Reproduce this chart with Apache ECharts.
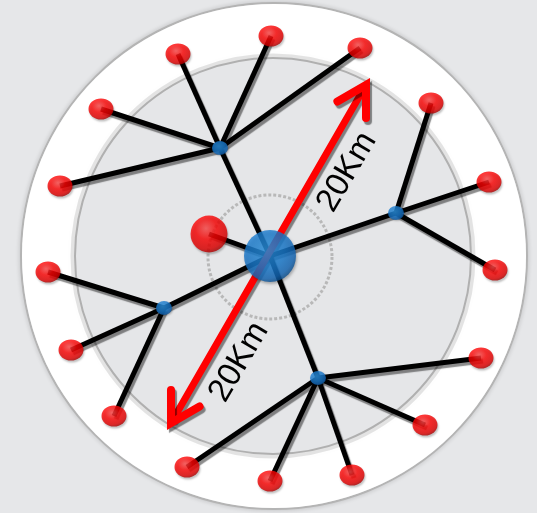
<!DOCTYPE html>
<html><head><meta charset="utf-8">
<script src="https://cdn.jsdelivr.net/npm/echarts@6/dist/echarts.min.js"></script>
<style>html,body{margin:0;padding:0;background:#e6e7e9;}#c{width:537px;height:513px;}</style>
</head><body><div id="c"></div>
<script>
// Diagram data (pixel-like coordinates)
const centerNode = [270, 256];
const nearNode = [209, 234];
const hubs = [[220,148],[396,213],[164,308],[318,378]];
const leaves = [
  [178,54,0],[271,36,0],[360,48,0],[101,109,0],[60,186,0],
  [431,103,1],[489,182,1],[495,270,1],
  [48,272,2],[71,350,2],[114,416,2],
  [481,358,3],[425,425,3],[352,475,3],[270,481,3],[187,467,3]
];
const arrowEnds = [[171,423],[366,85]];
const distLabel = '20Km';
const labelPos = [[347,172],[239,362]];
const rings = [ // cx, cy, r
  [274,256,252],[273,256,198],[270,257,62]
];

const links = [];
hubs.forEach(h => links.push({coords:[centerNode, h]}));
links.push({coords:[centerNode, nearNode]});
leaves.forEach(l => links.push({coords:[hubs[l[2]], [l[0], l[1]]]}));

const redGrad = {type:'radial',x:0.42,y:0.35,r:0.65,colorStops:[{offset:0,color:'#ff4a4a'},{offset:0.45,color:'#ff0505'},{offset:0.85,color:'#e20000'},{offset:1,color:'#b00000'}]};
const blueGrad = {type:'radial',x:0.42,y:0.38,r:0.65,colorStops:[{offset:0,color:'#2b93e2'},{offset:0.55,color:'#1a7cd0'},{offset:0.85,color:'#1468b8'},{offset:1,color:'#0b4b88'}]};

const chart = echarts.init(document.getElementById('c'));
chart.setOption({
  backgroundColor:'#e6e7e9',
  animation:false,
  grid:{left:0,right:0,top:0,bottom:0},
  xAxis:{type:'value',min:0,max:537,show:false},
  yAxis:{type:'value',min:0,max:513,inverse:true,show:false},
  series:[
    { type:'custom', silent:true, z:1,
      data:[0],
      renderItem:function(p, api){
        const c0 = api.coord([rings[0][0], rings[0][1]]);
        const r0 = api.size([rings[0][2], 0])[0];
        const c1 = api.coord([rings[1][0], rings[1][1]]);
        const r1 = api.size([rings[1][2], 0])[0];
        const c2 = api.coord([rings[2][0], rings[2][1]]);
        const r2 = api.size([rings[2][2], 0])[0];
        return {type:'group', children:[
          {type:'circle', shape:{cx:c0[0],cy:c0[1],r:r0+1}, style:{fill:'none',stroke:'#b4b4b4',lineWidth:2, shadowBlur:4, shadowColor:'rgba(0,0,0,0.25)'}},
          {type:'circle', shape:{cx:c0[0],cy:c0[1],r:r0}, style:{fill:'#ffffff'}},
          {type:'circle', shape:{cx:c1[0],cy:c1[1],r:r1+2}, style:{fill:'none',stroke:'rgba(0,0,0,0.10)',lineWidth:5, shadowBlur:6, shadowColor:'rgba(0,0,0,0.18)'}},
          {type:'circle', shape:{cx:c1[0],cy:c1[1],r:r1}, style:{fill:'#e5e6e8',stroke:'#b0b0b0',lineWidth:2}},
          {type:'circle', shape:{cx:c2[0],cy:c2[1],r:r2}, style:{fill:'none',stroke:'#b8b8b8',lineWidth:3,lineDash:[3,2]}}
        ]};
      }
    },
    { type:'lines', coordinateSystem:'cartesian2d', z:3, silent:true,
      lineStyle:{color:'#000',width:5,opacity:1,shadowColor:'rgba(0,0,0,0.45)',shadowBlur:1,shadowOffsetX:2,shadowOffsetY:3},
      data:links
    },
    { type:'custom', silent:true, z:4,
      data:[0],
      renderItem:function(p, api){
        const a = api.coord(arrowEnds[0]), b = api.coord(arrowEnds[1]);
        const sh = {shadowColor:'rgba(0,0,0,0.45)',shadowBlur:1,shadowOffsetX:2,shadowOffsetY:3};
        function head(tip, from){
          const dx = from[0]-tip[0], dy = from[1]-tip[1];
          const L = Math.hypot(dx,dy), ux = dx/L, uy = dy/L;
          const len = 33, ang = 30*Math.PI/180;
          const c = Math.cos(ang), s = Math.sin(ang);
          const p1 = [tip[0]+len*(ux*c - uy*s), tip[1]+len*(ux*s + uy*c)];
          const p2 = [tip[0]+len*(ux*c + uy*s), tip[1]+len*(-ux*s + uy*c)];
          return {type:'polyline', shape:{points:[p1,tip,p2]}, style:Object.assign({fill:'none',stroke:'#ff0000',lineWidth:8,lineJoin:'miter',lineCap:'round'}, sh)};
        }
        return {type:'group', children:[
          {type:'line', shape:{x1:a[0]+(b[0]-a[0])*0.012,y1:a[1]+(b[1]-a[1])*0.012,x2:b[0]-(b[0]-a[0])*0.012,y2:b[1]-(b[1]-a[1])*0.012}, style:Object.assign({stroke:'#ff0000',lineWidth:7,lineCap:'round'}, sh)},
          head(a, b), head(b, a)
        ]};
      }
    },
    { type:'scatter', z:6, silent:true, symbol:'circle', symbolSize:[25,21],
      itemStyle:{color:redGrad, shadowColor:'rgba(0,0,0,0.3)',shadowBlur:2,shadowOffsetX:1,shadowOffsetY:2},
      data:leaves.map(l=>[l[0],l[1]])
    },
    { type:'scatter', z:6, silent:true, symbol:'circle', symbolSize:37,
      itemStyle:{color:redGrad, shadowColor:'rgba(0,0,0,0.3)',shadowBlur:2,shadowOffsetX:1,shadowOffsetY:2},
      data:[nearNode]
    },
    { type:'scatter', z:6, silent:true, symbol:'circle', symbolSize:[16,14],
      itemStyle:{color:blueGrad, shadowColor:'rgba(0,0,0,0.3)',shadowBlur:2,shadowOffsetX:1,shadowOffsetY:1},
      data:hubs
    },
    { type:'scatter', z:6, silent:true, symbol:'circle', symbolSize:52,
      itemStyle:{color:blueGrad, shadowColor:'rgba(0,0,0,0.35)',shadowBlur:3,shadowOffsetX:1,shadowOffsetY:2},
      data:[centerNode]
    },
    { type:'custom', silent:true, z:7,
      data:labelPos,
      renderItem:function(p, api){
        const c = api.coord([api.value(0), api.value(1)]);
        return {type:'text', x:c[0], y:c[1], rotation:59.5*Math.PI/180,
          style:{text:distLabel, x:0, y:0, align:'center', verticalAlign:'middle', fill:'#000', font:'33px "Liberation Sans", Arial, sans-serif'}};
      }
    }
  ]
});
</script></body></html>
